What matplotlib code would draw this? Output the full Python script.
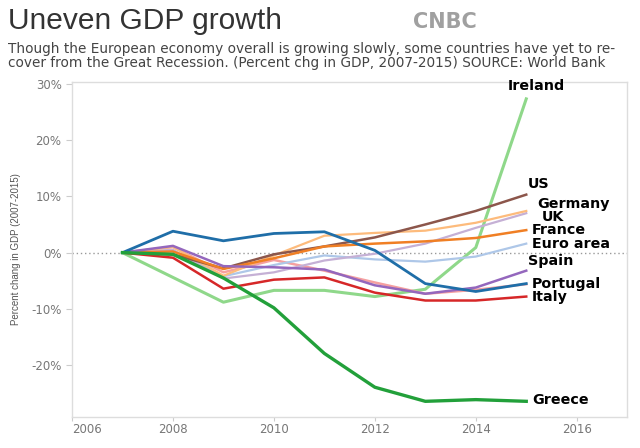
import matplotlib.pyplot as plt
from matplotlib.ticker import FuncFormatter

plt.rcParams['font.family'] = ['Liberation Sans', 'DejaVu Sans']

years = [2007, 2008, 2009, 2010, 2011, 2012, 2013, 2014, 2015]

# percent change in GDP vs 2007
ireland = [0, -4.4, -8.8, -6.7, -6.7, -7.8, -6.5, 0.9, 27.3]
greece = [0, -0.3, -4.5, -9.8, -17.9, -23.9, -26.4, -26.1, -26.4]
us = [0, -0.3, -2.8, -0.3, 1.1, 2.7, 5.0, 7.4, 10.3]
germany = [0, 1.0, -4.1, -0.5, 3.0, 3.5, 3.9, 5.3, 7.4]
uk = [0, 0.5, -4.6, -3.5, -1.4, -0.2, 1.6, 4.4, 7.0]
france = [0, 0.2, -2.9, -1.0, 1.1, 1.6, 2.0, 2.6, 4.0]
euro_area = [0, 0.4, -4.2, -2.2, -0.5, -1.2, -1.6, -0.7, 1.6]
spain = [0, 1.2, -2.4, -2.6, -3.0, -5.8, -7.3, -6.2, -3.2]
pink = [0, 1.0, -3.5, -1.3, -3.2, -5.3, -7.3, -6.6, -5.6]
portugal = [0, 3.8, 2.1, 3.4, 3.7, 0.4, -5.5, -6.9, -5.5]
italy = [0, -0.9, -6.4, -4.8, -4.4, -7.1, -8.5, -8.5, -7.8]

series = [
    ('Ireland', ireland, '#8fd88a', 2.2),
    ('', pink, '#f5a0a0', 1.8),
    ('Euro area', euro_area, '#aec7e8', 1.6),
    ('UK', uk, '#c5b0d5', 1.6),
    ('Germany', germany, '#fdbb7c', 1.6),
    ('US', us, '#8c564b', 1.8),
    ('France', france, '#f07f24', 1.8),
    ('Spain', spain, '#9467bd', 1.8),
    ('Italy', italy, '#d62728', 1.8),
    ('Portugal', portugal, '#1f6ea8', 2.0),
    ('Greece', greece, '#22a03a', 2.4),
]

# label nudges (points) so names don't collide
label_offsets = {'Ireland': (7, 4), 'US': (1, 8), 'Germany': (8, 5),
                 'UK': (11, -3), 'France': (4, 0), 'Euro area': (4, 0),
                 'Spain': (1, 7), 'Portugal': (4, 0), 'Italy': (4, 0),
                 'Greece': (4, 1)}

fig = plt.figure(figsize=(6.4, 4.48), dpi=100)
ax = fig.add_axes([0.1125, 0.069, 0.8675, 0.748])

ax.axhline(0, color='#999999', lw=1, ls=(0, (1, 2)), zorder=1)

for name, vals, col, lw in series:
    ax.plot(years, vals, color=col, lw=lw, zorder=2)
    if not name:
        continue
    dx, dy = label_offsets[name]
    if name == 'Ireland':
        ax.annotate(name, xy=(years[-1], vals[-1]), xytext=(dx, dy),
                    textcoords='offset points', ha='center', va='bottom',
                    fontsize=10.3, fontweight='bold', color='black',
                    family='DejaVu Sans')
    else:
        ax.annotate(name, xy=(years[-1], vals[-1]), xytext=(dx, dy),
                    textcoords='offset points', ha='left', va='center',
                    fontsize=10.3, fontweight='bold', color='black',
                    family='DejaVu Sans')

ax.set_xlim(2006, 2017)
ax.set_ylim(-29.2, 30.3)
ax.set_xticks([2006, 2008, 2010, 2012, 2014, 2016])
ax.set_yticks([-20, -10, 0, 10, 20, 30])
ax.yaxis.set_major_formatter(FuncFormatter(lambda v, p: '%d%%' % v))
ax.tick_params(colors='#cccccc', labelcolor='#777777', labelsize=8.5,
               length=4, width=0.8)
ax.tick_params(axis='x', length=3, pad=1.5)
for lab in ax.get_xticklabels() + ax.get_yticklabels():
    lab.set_family('DejaVu Sans')
ax.get_xticklabels()[0].set_horizontalalignment('left')
for s in ax.spines.values():
    s.set_color('#dddddd')
    s.set_linewidth(1)

ax.set_ylabel('Percent chang in GDP (2007-2015)', fontsize=7, color='#555555',
              family=['Liberation Sans Narrow', 'Liberation Sans'], labelpad=7)

fig.text(0.0125, 0.953, 'Uneven GDP growth', fontsize=21.5, color='#333333',
         va='center', ha='left')
fig.text(0.695, 0.95, 'CNBC', fontsize=15, fontweight='bold',
         color='#a0a0a0', va='center', ha='center', family='DejaVu Sans')
fig.text(0.0125, 0.874,
         'Though the European economy overall is growing slowly, some countries have yet to re-\n'
         'cover from the Great Recession. (Percent chg in GDP, 2007-2015) SOURCE: World Bank',
         fontsize=9.8, color='#444444', va='center', ha='left', linespacing=1.0,
         family='DejaVu Sans')

fig.savefig('out.png', dpi=100)
